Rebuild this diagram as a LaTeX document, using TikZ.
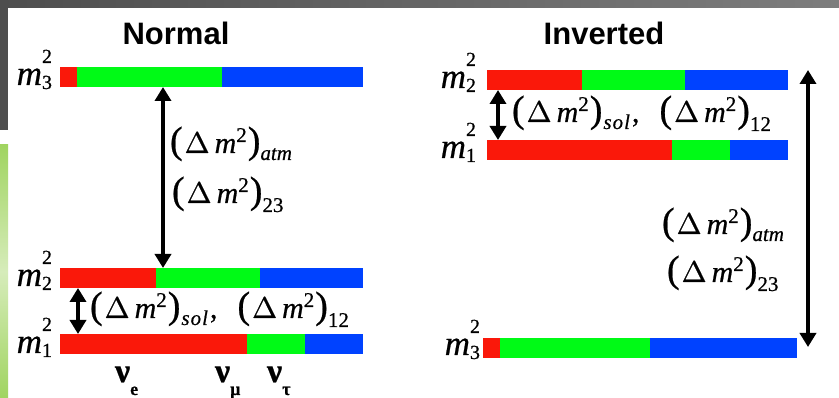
\documentclass[tikz,border=0pt]{standalone}
\usepackage{fontspec}
\newfontfamily\serifmath{Liberation Serif}[FakeBold=0.6]
\newfontfamily\deltafont{lmroman10-regular}[Extension=.otf, FakeBold=0.6]
\newfontfamily\titlefont{Liberation Sans}
\usetikzlibrary{arrows.meta}
\definecolor{barred}{RGB}{250,24,10}
\definecolor{bargreen}{RGB}{0,250,22}
\definecolor{barblue}{RGB}{0,66,255}
\definecolor{frameA}{RGB}{78,78,78}
\definecolor{frameB}{RGB}{125,125,125}
\definecolor{leafA}{RGB}{160,212,96}
\definecolor{leafB}{RGB}{214,236,186}
\newcommand\fs[1]{\fontsize{#1}{#1}\selectfont}
\newcommand\dmsq{{\fs{38}(}\kern2pt{\deltafont\fs{30}Δ}\kern5pt{\fs{30}\itshape m}\raisebox{11pt}{\fs{21}2}\kern1pt{\fs{38})}}
\newcommand\lowsub[2]{\raisebox{-#1}{\fs{21}#2}}
\newcommand\mlab[1]{{\fs{35}\itshape m}\rlap{\raisebox{22pt}{\fs{20}2}}\raisebox{-4pt}{\fs{20}#1}}
\newcommand\nulab[1]{{\fs{34}\bfseries ν}\raisebox{-13pt}{\fs{18}\bfseries #1}}
\begin{document}
\begin{tikzpicture}[x=1pt,y=-1pt,
  seg/.style={rectangle, inner sep=0pt, outer sep=0pt, anchor=north west, minimum height=20pt},
  lab/.style={inner sep=0pt, outer sep=0pt, font=\serifmath},
  title/.style={inner sep=0pt, anchor=base, font=\titlefont\bfseries\fs{31}},
  dbl/.style={line width=3.5pt, <->, >={Triangle[length=14pt,width=16pt]}}]
\useasboundingbox (0,0) rectangle (839,398);
% background frame
\fill[white] (0,0) rectangle (839,398);
\fill[left color=frameA, right color=frameB] (0,0) rectangle (839,8);
\fill[frameA] (0,0) rectangle (8,130);
\fill[top color=leafA, bottom color=leafA, middle color=leafB] (0,145) rectangle (8,398);
% titles
\node[title] (tNormal) at (176,45) {Normal};
\node[title] (tInverted) at (604,45) {Inverted};
% ---------- Normal ----------
\node[seg, fill=barred, minimum width=17pt] (n3r) at (60,67) {};
\node[seg, fill=bargreen, minimum width=145pt] (n3g) at (n3r.north east) {};
\node[seg, fill=barblue, minimum width=141pt] (n3b) at (n3g.north east) {};
\node[seg, fill=barred, minimum width=96pt] (n2r) at (60,268) {};
\node[seg, fill=bargreen, minimum width=104pt] (n2g) at (n2r.north east) {};
\node[seg, fill=barblue, minimum width=103pt] (n2b) at (n2g.north east) {};
\node[seg, fill=barred, minimum width=187pt] (n1r) at (60,334) {};
\node[seg, fill=bargreen, minimum width=58pt] (n1g) at (n1r.north east) {};
\node[seg, fill=barblue, minimum width=58pt] (n1b) at (n1g.north east) {};
\node[lab, anchor=base east] (lm3) at (52,85) {\mlab{3}};
\node[lab, anchor=base east] (lm2) at (52,286) {\mlab{2}};
\node[lab, anchor=base east] (lm1) at (52,353) {\mlab{1}};
\coordinate (atmN) at (163,0);
\coordinate (solN) at (78,0);
\draw[dbl] (n3g.south -| atmN) -- (n2g.north -| atmN);
\draw[dbl] (n2r.south -| solN) -- (n1r.north -| solN);
\node[lab, anchor=base west] (atmNa) at (170,153) {\dmsq\lowsub{7pt}{\itshape atm}};
\node[lab, anchor=base west] (atmNb) at (172,203) {\dmsq\lowsub{9pt}{23}};
\node[lab, anchor=base west] (solNl) at (90,318) {\dmsq\lowsub{7pt}{\itshape\kern1pt s\kern1pt o\kern1pt l}\kern2pt{\fs{30},}\hspace{20pt}\dmsq\lowsub{9pt}{12}};
\node[lab, anchor=base west] (nue) at (115,382) {\nulab{e}};
\node[lab, anchor=base west] (numu) at (215,382) {\nulab{μ}};
\node[lab, anchor=base west] (nutau) at (267,382) {\nulab{τ}};
% ---------- Inverted ----------
\node[seg, fill=barred, minimum width=95pt] (i2r) at (487,70) {};
\node[seg, fill=bargreen, minimum width=103pt] (i2g) at (i2r.north east) {};
\node[seg, fill=barblue, minimum width=103pt] (i2b) at (i2g.north east) {};
\node[seg, fill=barred, minimum width=185pt] (i1r) at (487,140) {};
\node[seg, fill=bargreen, minimum width=58pt] (i1g) at (i1r.north east) {};
\node[seg, fill=barblue, minimum width=58pt] (i1b) at (i1g.north east) {};
\node[seg, fill=barred, minimum width=17pt] (i3r) at (483,338) {};
\node[seg, fill=bargreen, minimum width=150pt] (i3g) at (i3r.north east) {};
\node[seg, fill=barblue, minimum width=147pt] (i3b) at (i3g.north east) {};
\node[lab, anchor=base east] (li2) at (476,88) {\mlab{2}};
\node[lab, anchor=base east] (li1) at (476,158) {\mlab{1}};
\node[lab, anchor=base east] (li3) at (480,355) {\mlab{3}};
\coordinate (solI) at (498,0);
\coordinate (atmItop) at (808,70);
\coordinate (atmIbot) at (808,347);
\draw[dbl] (i2r.south -| solI) -- (i1r.north -| solI);
\draw[dbl] (atmItop) -- (atmIbot);
\node[lab, anchor=base west] (solIl) at (512,122) {\dmsq\lowsub{7pt}{\itshape\kern1pt s\kern1pt o\kern1pt l}\kern2pt{\fs{30},}\hspace{20pt}\dmsq\lowsub{9pt}{12}};
\node[lab, anchor=base west] (atmIa) at (662,234) {\dmsq\lowsub{7pt}{\itshape atm}};
\node[lab, anchor=base west] (atmIb) at (667,282) {\dmsq\lowsub{9pt}{23}};
\end{tikzpicture}
\end{document}
